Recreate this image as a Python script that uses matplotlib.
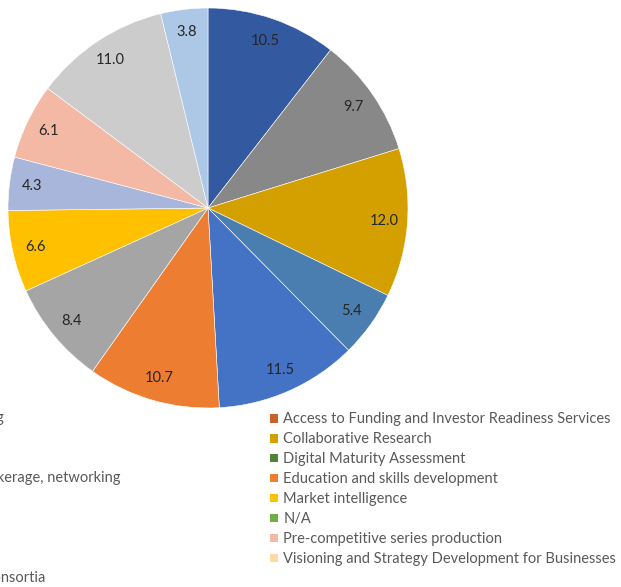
import matplotlib

matplotlib.use("Agg")
import matplotlib.pyplot as plt
from matplotlib.patches import Patch

plt.rcParams["font.family"] = ["Lato", "DejaVu Sans"]

# slice values (clockwise from 12 o'clock) and colours
values = [10.5, 9.7, 12.0, 5.4, 11.5, 10.7, 8.4, 6.6, 4.3, 6.1, 11.0, 3.8]
slice_colors = [
    "#335AA1", "#888888", "#D4A000", "#4A7EB0", "#4472C4", "#ED7D31",
    "#A5A5A5", "#FFC000", "#A8B6DC", "#F4B9A5", "#CCCCCC", "#ADC7E6",
]

# legend (right column visible, left column cut off by the image edge)
legend_labels = [
    "Access to Funding and Investor Readiness Services",
    "Collaborative Research",
    "Digital Maturity Assessment",
    "Education and skills development",
    "Market intelligence",
    "N/A",
    "Pre-competitive series production",
    "Visioning and Strategy Development for Businesses",
]
legend_colors = [
    "#C5632B", "#D4A000", "#548235", "#ED7D31",
    "#FFC000", "#70AD47", "#F4B9A5", "#FFD9A3",
]
left_labels = ["Coaching and mentoring", "Technology brokerage, networking",
               "Support to building consortia"]
left_rows = [0, 3, 8]
left_ends = [4, 121, 45]

W, H = 621, 587
fig = plt.figure(figsize=(W / 100, H / 100), dpi=100)

ax = fig.add_axes([8 / W, (H - 408) / H, 400 / W, 400 / H])
ax.pie(
    values,
    colors=slice_colors,
    startangle=90,
    counterclock=False,
    labels=[f"{v:.1f}" for v in values],
    labeldistance=0.885,
    wedgeprops=dict(edgecolor="white", linewidth=0.4),
    textprops=dict(color="#262626", fontsize=10.5, ha="center", va="center"),
)
ax.set_xlim(-1, 1)
ax.set_ylim(-1, 1)
ax.set_aspect("equal")
ax.axis("off")

handles = [Patch(facecolor=c, edgecolor="none") for c in legend_colors]
fig.legend(
    handles,
    legend_labels,
    loc="upper left",
    bbox_to_anchor=(263 / W, 1 - 405 / H),
    frameon=False,
    fontsize=10.5,
    labelcolor="#595959",
    handlelength=0.55,
    handleheight=0.55,
    handletextpad=0.35,
    labelspacing=0.41,
    borderpad=0.0,
)

row_y0 = 418
for lab, r, xe in zip(left_labels, left_rows, left_ends):
    fig.text(xe / W, 1 - (row_y0 + 20 * r) / H, lab, ha="right", va="center",
             fontsize=10.5, color="#595959")

fig.savefig("out.png", dpi=100)
